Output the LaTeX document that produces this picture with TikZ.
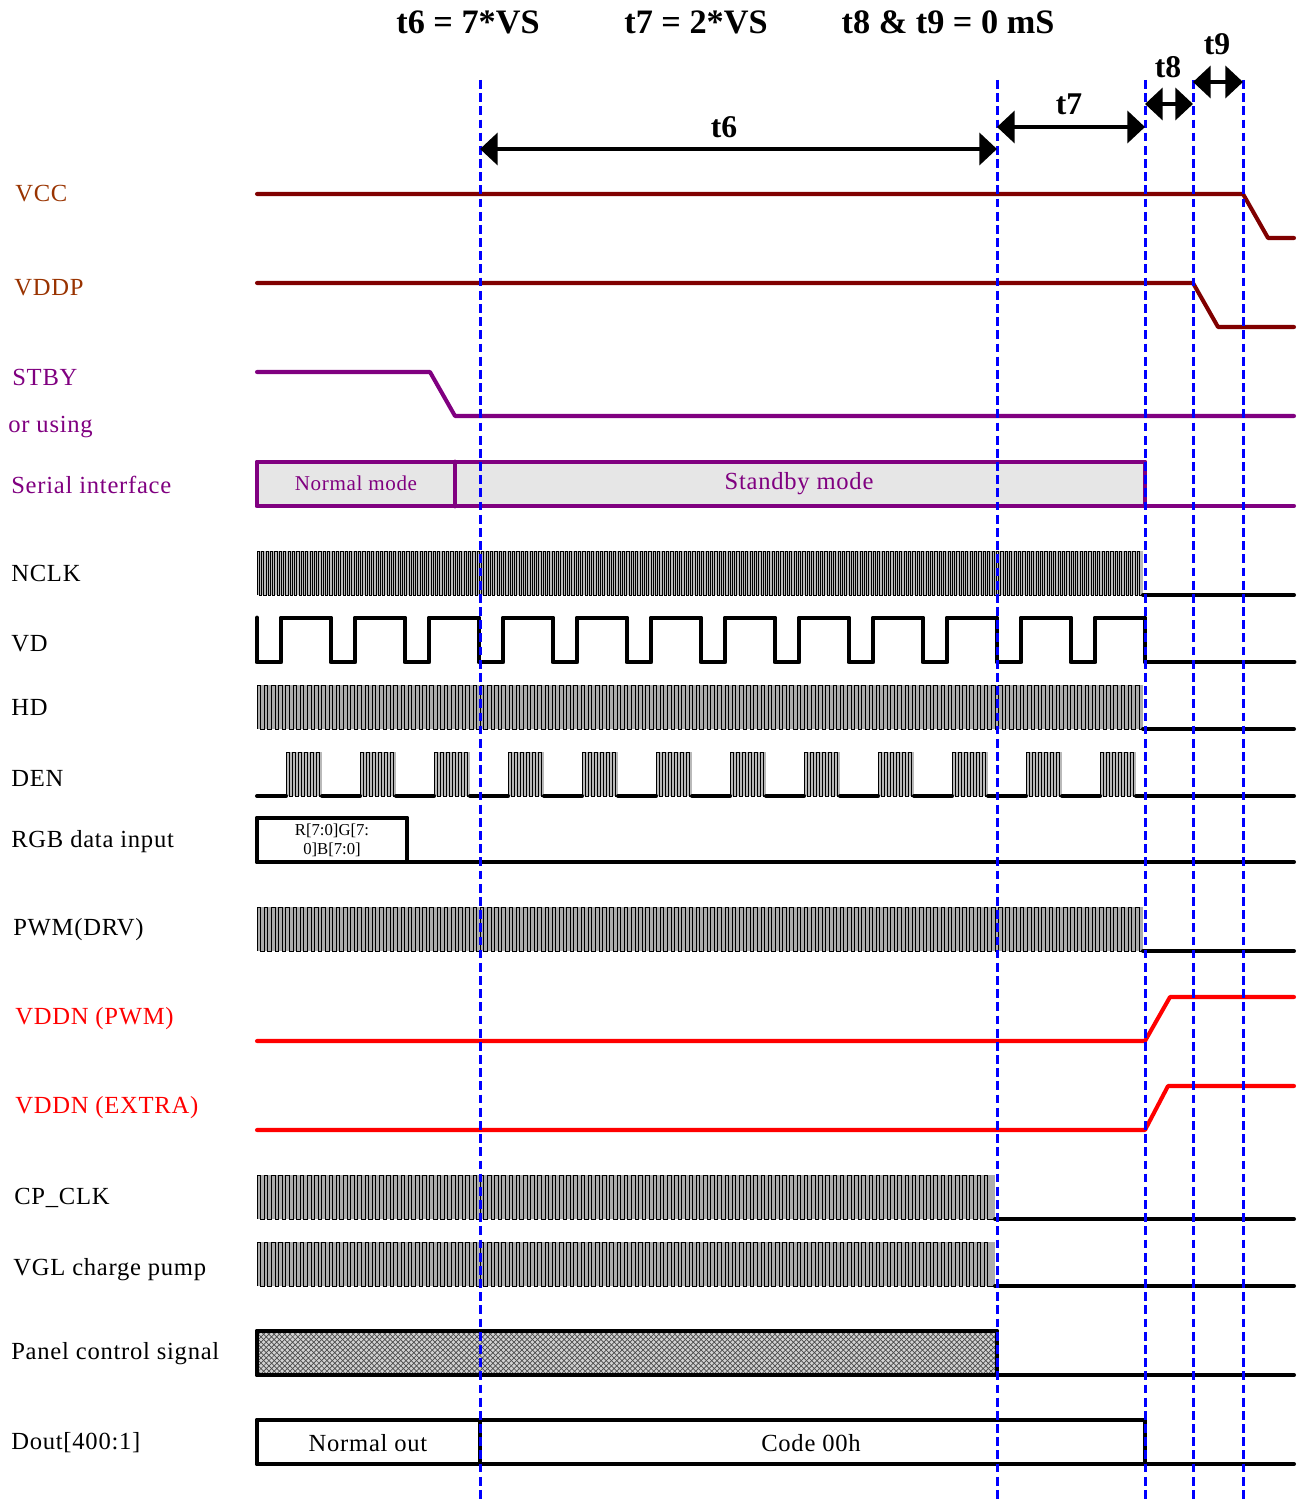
\documentclass[tikz,border=0pt]{standalone}
\usepackage{fontspec}
\setmainfont{Liberation Serif}
\newfontfamily\lblfont[LetterSpace=3]{Liberation Serif}
\usetikzlibrary{arrows.meta,patterns}
\definecolor{vccline}{RGB}{128,0,0}
\definecolor{vcctext}{RGB}{153,51,0}
\definecolor{stbycol}{RGB}{128,0,128}
\definecolor{boxgray}{RGB}{230,230,230}
\def\clklw{0.55pt}
\newcommand\clkwave[6]{% x0 x1 ytop ybot period fillcolor
  \pgfmathsetmacro\clkxa{#1}%
  \pgfmathsetmacro\clkxb{#2}%
  \pgfmathtruncatemacro\nclk{(\clkxb-\clkxa)/(#5)-1}%
  \fill[#6] (\clkxa,#3) rectangle (\clkxb,#4);
  \draw[clkline] (\clkxa,#4) \foreach \ck in {0,...,\nclk}{
    -- ({\clkxa+\ck*#5},#4) -- ({\clkxa+\ck*#5},#3) -- ({\clkxa+\ck*#5+#5/2},#3) -- ({\clkxa+\ck*#5+#5/2},#4)} -- (\clkxb,#4);
}
\begin{document}
\begin{tikzpicture}[x=0.02cm,y=-0.02cm,
  sig/.style={line width=2.3pt,line join=round,line cap=round},
  vsig/.style={sig,draw=vccline},
  psig/.style={sig,draw=stbycol},
  rsig/.style={sig,draw=red},
  bsig/.style={sig,draw=black},
  boxline/.style={line width=2.8pt,line join=round,line cap=round},
  clkline/.style={draw=black,line width=\clklw},
  dashv/.style={draw=blue,line width=1.7pt,dash pattern=on 5pt off 2.5pt},
  tarrow/.style={line width=2.8pt,{Triangle[length=10pt,width=18pt]}-{Triangle[length=10pt,width=18pt]}},
  lbl/.style={anchor=west,inner sep=0pt,font=\lblfont\fontsize{14}{16}\selectfont},
  inlbl/.style={inner sep=0pt,font=\lblfont\fontsize{14}{16}\selectfont},
  toplbl/.style={inner sep=0pt,font=\bfseries\fontsize{19.5}{22}\selectfont},
  tlbl/.style={inner sep=0pt,font=\bfseries\fontsize{18}{20}\selectfont}
]
\useasboundingbox (0,0) rectangle (1299,1503);

% ---- top titles
\node[toplbl] (title6) at (468,22) {t6 = 7*VS};
\node[toplbl] (title7) at (696,22) {t7 = 2*VS};
\node[toplbl] (title89) at (948,22) {t8 \& t9 = 0 mS};

% ---- left labels
\node[lbl,text=vcctext] (lvcc) at (15,194) {VCC};
\node[lbl,text=vcctext] (lvddp) at (14,288) {VDDP};
\node[lbl,text=stbycol] (lstby) at (12,377) {STBY};
\node[lbl,text=stbycol] (lusing) at (8,427) {or using};
\node[lbl,text=stbycol] (lser) at (11,485) {Serial interface};
\node[lbl] (lnclk) at (11,573) {NCLK};
\node[lbl] (lvd) at (11,644) {VD};
\node[lbl] (lhd) at (11,707) {HD};
\node[lbl] (lden) at (11,778) {DEN};
\node[lbl] (lrgb) at (11,842) {RGB data input};
\node[lbl] (lpwm) at (13,930) {PWM(DRV)};
\node[lbl,text=red] (lvddn1) at (15,1019) {VDDN (PWM)};
\node[lbl,text=red] (lvddn2) at (15,1108) {VDDN (EXTRA)};
\node[lbl] (lcp) at (14,1198) {CP\_CLK};
\node[lbl] (lvgl) at (13,1270) {VGL charge pump};
\node[lbl] (lpanel) at (11,1354) {Panel control signal};
\node[lbl] (ldout) at (11,1443) {Dout[400:1]};

% ---- VCC / VDDP
\draw[vsig] (257,194) -- (1243,194) -- (1268,238) -- (1294,238);
\draw[vsig] (257,283) -- (1193,283) -- (1218,327) -- (1294,327);

% ---- STBY
\draw[psig] (257,372) -- (430,372) -- (455,416) -- (1294,416);

% ---- Serial interface
\draw[boxline,draw=stbycol,fill=boxgray] (257,462) rectangle (1145,506);
\draw[boxline,draw=stbycol] (455,462) -- (455,506);
\draw[psig] (1145,506) -- (1294,506);
\node[inlbl,text=stbycol,font=\lblfont\fontsize{12}{14}\selectfont] (nmode) at (356,483) {Normal mode};
\node[inlbl,text=stbycol] (smode) at (799,484) {Standby mode};

% ---- NCLK
{\def\clklw{0.3pt}
\clkwave{257}{1143}{551}{595}{4.4}{gray!55}}
\draw[bsig] (1143,595) -- (1294,595);

% ---- VD
\draw[bsig,line width=2.8pt] (257,618) \foreach \k in {0,...,11}{
  -- ({257+74*\k},618) -- ({257+74*\k},662) -- ({281+74*\k},662) -- ({281+74*\k},618)}
  -- (1145,618) -- (1145,662) -- (1294,662);

% ---- HD
\clkwave{257}{1143}{685}{729}{7.2}{gray!65}
\draw[bsig] (1143,729) -- (1294,729);

% ---- DEN
{\def\clklw{0.45pt}
\foreach \dk in {0,...,11}{
  \pgfmathsetmacro\denxa{286+74*\dk}
  \pgfmathsetmacro\denxb{322+74*\dk}
  \clkwave{\denxa}{\denxb}{752}{796}{6}{gray!55}
}}
\draw[bsig] (257,796) -- (286,796);
\foreach \dk in {0,...,10}{
  \draw[bsig] ({322+74*\dk},796) -- ({360+74*\dk},796);
}
\draw[bsig] (1136,796) -- (1294,796);

% ---- RGB data input
\draw[boxline] (257,818) rectangle (407,862);
\draw[bsig] (407,862) -- (1294,862);
\node[inner sep=0pt,align=center,font=\fontsize{9.5}{10.8}\selectfont] (rgbtxt) at (332,840) {R[7:0]G[7:\\0]B[7:0]};

% ---- PWM(DRV)
\clkwave{257}{1143}{907}{951}{7.2}{gray!65}
\draw[bsig] (1143,951) -- (1294,951);

% ---- VDDN
\draw[rsig] (257,1041) -- (1145,1041) -- (1170,997) -- (1294,997);
\draw[rsig] (257,1130) -- (1145,1130) -- (1168,1086) -- (1294,1086);

% ---- CP_CLK / VGL
\clkwave{257}{995}{1175}{1219}{7.2}{gray!65}
\draw[bsig] (995,1219) -- (1294,1219);
\clkwave{257}{995}{1242}{1286}{7.2}{gray!65}
\draw[bsig] (995,1286) -- (1294,1286);

% ---- Panel control signal
\fill[gray!35] (257,1331) rectangle (997,1375);
\fill[pattern=crosshatch,pattern color=black!70] (257,1331) rectangle (997,1375);
\draw[boxline] (257,1331) rectangle (997,1375);
\draw[bsig] (997,1375) -- (1294,1375);

% ---- Dout
\draw[boxline] (257,1420) rectangle (1145,1464);
\draw[boxline] (480,1420) -- (480,1464);
\draw[bsig] (1145,1464) -- (1294,1464);
\node[inlbl] (nout) at (368,1443) {Normal out};
\node[inlbl] (code) at (811,1443) {Code 00h};

% ---- dashed time markers
\foreach \n/\x in {1/480,2/997,3/1145,4/1193,5/1243}{
  \coordinate (d\n t) at (\x,80);
  \coordinate (d\n b) at (\x,1503);
  \draw[dashv] (d\n t) -- (d\n b);
}

% ---- timing arrows
\coordinate (a6l) at (480,149); \coordinate (a6r) at (997,149);
\coordinate (a7l) at (997,127); \coordinate (a7r) at (1145,127);
\coordinate (a8l) at (1145,104); \coordinate (a8r) at (1193,104);
\coordinate (a9l) at (1193,82); \coordinate (a9r) at (1243,82);
\draw[tarrow] (a6l) -- (a6r);
\draw[tarrow] (a7l) -- (a7r);
\draw[tarrow] (a8l) -- (a8r);
\draw[tarrow] (a9l) -- (a9r);
\node[tlbl] (t6) at (724,127) {t6};
\node[tlbl] (t7) at (1069,104) {t7};
\node[tlbl] (t8) at (1168,67) {t8};
\node[tlbl] (t9) at (1217,44) {t9};
\end{tikzpicture}
\end{document}
